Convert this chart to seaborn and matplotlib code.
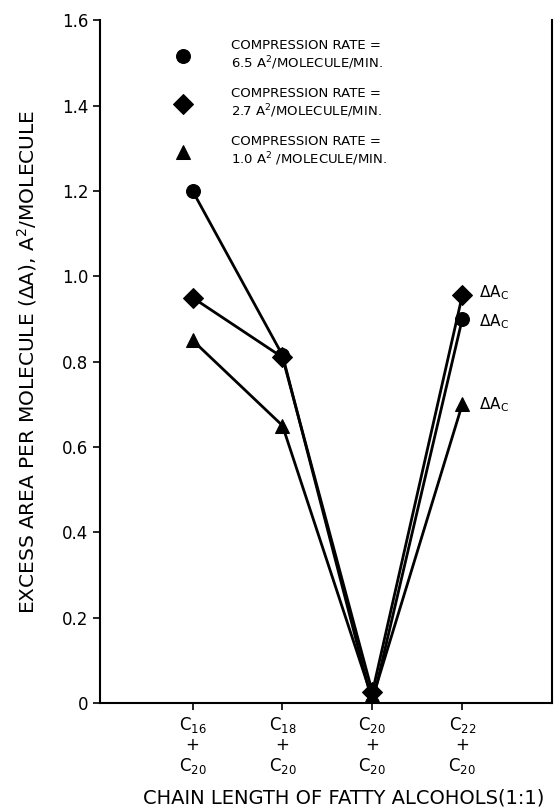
import matplotlib
matplotlib.use("Agg")
import matplotlib.pyplot as plt
import numpy as np
import pandas as pd
import seaborn as sns

# data
mixtures = ["C16+C20", "C18+C20", "C20+C20", "C22+C20"]
tick_labels = ["C$_{16}$\n+\nC$_{20}$", "C$_{18}$\n+\nC$_{20}$",
               "C$_{20}$\n+\nC$_{20}$", "C$_{22}$\n+\nC$_{20}$"]
rate_65 = [1.20, 0.815, 0.0, 0.90]
rate_27 = [0.95, 0.81, 0.025, 0.955]
rate_10 = [0.85, 0.65, 0.01, 0.70]
rate_names = ["COMPRESSION RATE =\n6.5 A$^2$/MOLECULE/MIN.",
              "COMPRESSION RATE =\n2.7 A$^2$/MOLECULE/MIN.",
              "COMPRESSION RATE =\n1.0 A$^2$ /MOLECULE/MIN."]

df = pd.DataFrame({
    "pos": np.tile(np.arange(len(mixtures)), 3),
    "area": rate_65 + rate_27 + rate_10,
    "rate": np.repeat(rate_names, len(mixtures)),
})

sns.set_style("ticks")
plt.rcParams["font.family"] = ["DejaVu Sans"]
plt.rcParams.update({"text.color": "black", "axes.labelcolor": "black",
                     "xtick.color": "black", "ytick.color": "black",
                     "axes.edgecolor": "black"})

fig = plt.figure(figsize=(5.6, 8.11), dpi=100)
ax = fig.add_axes([0.1786, 0.1332, 0.8074, 0.8418])

sns.lineplot(data=df, x="pos", y="area", style="rate", markers=["o", "D", "^"],
             dashes=False, color="black", linewidth=2, markersize=10,
             markeredgecolor="black", ax=ax)

ax.set_xlim(-1.03, 4.0)
ax.set_ylim(0, 1.6)
ax.set_xticks(range(len(mixtures)))
ax.set_xticklabels(tick_labels, fontsize=12, linespacing=1.1)
yt = np.arange(0, 1.61, 0.2)
ax.set_yticks(yt)
ax.set_yticklabels(["0"] + ["%.1f" % v for v in yt[1:]], fontsize=12)
ax.tick_params(direction="out", length=5, width=1.2)
for s in ["left", "right", "bottom"]:
    ax.spines[s].set_linewidth(1.5)
ax.spines["top"].set_visible(False)

ax.set_xlabel("CHAIN LENGTH OF FATTY ALCOHOLS(1:1)", fontsize=14)
ax.xaxis.set_label_coords(0.54, -0.125)
ax.set_ylabel("EXCESS AREA PER MOLECULE ($\\Delta$A), A$^2$/MOLECULE", fontsize=14.5,
              labelpad=16)

# delta A_c labels at C22
for vals, dy in [(rate_27, 2), (rate_65, -2), (rate_10, 0)]:
    ax.annotate("$\\Delta$A$_\\mathrm{C}$", xy=(3, vals[3]), xytext=(12, dy),
                textcoords="offset points", fontsize=11, va="center")

leg = ax.legend(loc="upper left", bbox_to_anchor=(0.14, 0.99), frameon=False,
                fontsize=9.5, labelspacing=1.1, handlelength=1.2,
                handletextpad=3.0)
for h in leg.legend_handles:
    h.set_linestyle("none")
    h.set_markersize(10)

fig.savefig("out.png", dpi=100)
